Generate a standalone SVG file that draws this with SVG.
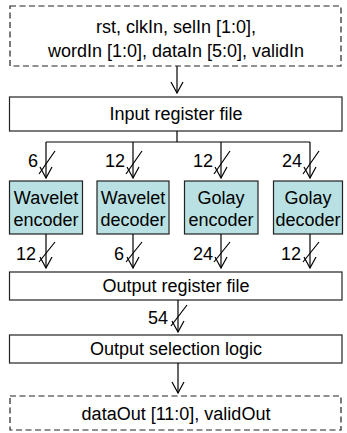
<svg xmlns="http://www.w3.org/2000/svg" width="347" height="433" viewBox="0 0 347 433">
<defs>
<marker id="ah" markerUnits="userSpaceOnUse" viewBox="-12 -7 14 14" markerWidth="14" markerHeight="14" refX="0" refY="0" orient="auto">
<path d="M-11,-6 L0,0 L-11,6" fill="none" stroke="#000" stroke-width="1.2"/>
</marker>
</defs>
<style>
text{font-family:"Liberation Sans",Arial,sans-serif;font-size:18px;fill:#000;text-anchor:middle}
.lbl{text-anchor:end}
.box{fill:#fff;stroke:#222;stroke-width:1.2}
.dash{fill:#fff;stroke:#222;stroke-width:1.2;stroke-dasharray:6,3.5}
.node{fill:#b9e0e2;stroke:#222;stroke-width:1.2}
.ln{fill:none;stroke:#000;stroke-width:1.2}
.arr{fill:none;stroke:#000;stroke-width:1.2;marker-end:url(#ah)}
</style>
<g id="inputs">
<rect class="dash" x="10" y="6" width="331" height="60"/>
<text x="176" y="33">rst, clkIn, selIn [1:0],</text>
<text x="176" y="57">wordIn [1:0], dataIn [5:0], validIn</text>
</g>
<g id="input-register-file">
<rect class="box" x="9.5" y="97" width="332.5" height="34"/>
<text x="176" y="120">Input register file</text>
</g>
<g id="wavelet-encoder">
<rect class="node" x="9.5" y="181" width="73" height="53"/>
<text x="46" y="204">Wavelet</text>
<text x="46" y="226">encoder</text>
</g>
<g id="wavelet-decoder">
<rect class="node" x="97" y="181" width="72" height="53"/>
<text x="133" y="204">Wavelet</text>
<text x="133" y="226">decoder</text>
</g>
<g id="golay-encoder">
<rect class="node" x="184.5" y="181" width="73.5" height="53"/>
<text x="221" y="204">Golay</text>
<text x="221" y="226">encoder</text>
</g>
<g id="golay-decoder">
<rect class="node" x="273.5" y="181" width="69" height="53"/>
<text x="308" y="204">Golay</text>
<text x="308" y="226">decoder</text>
</g>
<g id="output-register-file">
<rect class="box" x="9.5" y="272" width="332.5" height="28"/>
<text x="176" y="292">Output register file</text>
</g>
<g id="output-selection-logic">
<rect class="box" x="9.5" y="335" width="332.5" height="28"/>
<text x="176" y="355">Output selection logic</text>
</g>
<g id="outputs">
<rect class="dash" x="10" y="396" width="331" height="34"/>
<text x="176" y="420">dataOut [11:0], validOut</text>
</g>
<g id="connectors">
<path class="arr" d="M177,66 V93"/>
<path class="ln" d="M177,131 V142 M46,142 H310"/>
<path class="arr" d="M46,142 V178"/>
<path class="arr" d="M133,142 V178"/>
<path class="arr" d="M221,142 V178"/>
<path class="arr" d="M310,142 V178"/>
<path class="ln" d="M39,174 L55,151 M126,174 L142,151 M214,174 L230,151 M303,174 L319,151"/>
<text class="lbl" x="38" y="167">6</text>
<text class="lbl" x="125" y="167">12</text>
<text class="lbl" x="213" y="167">12</text>
<text class="lbl" x="302" y="167">24</text>
<path class="arr" d="M46,234 V268"/>
<path class="arr" d="M133,234 V268"/>
<path class="arr" d="M221,234 V268"/>
<path class="arr" d="M310,234 V268"/>
<path class="ln" d="M39,262 L55,242 M126,262 L142,242 M214,262 L230,242 M303,262 L319,242"/>
<text class="lbl" x="36" y="260">12</text>
<text class="lbl" x="124" y="260">6</text>
<text class="lbl" x="213" y="260">24</text>
<text class="lbl" x="301" y="260">12</text>
<path class="arr" d="M178,300 V332"/>
<path class="ln" d="M171,326 L187,305"/>
<text class="lbl" x="168" y="324">54</text>
<path class="arr" d="M178,363 V393"/>
</g>
</svg>
